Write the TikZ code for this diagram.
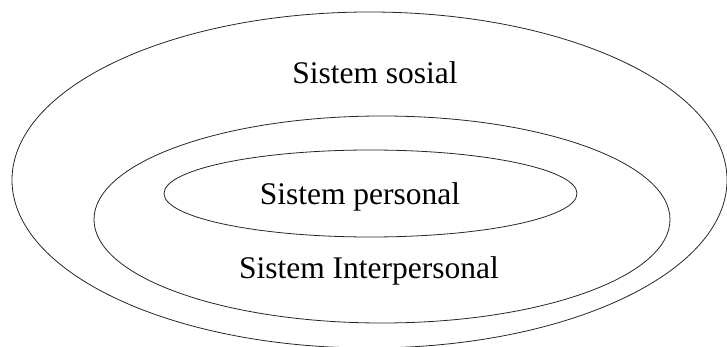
\documentclass[tikz,border=0pt]{standalone}
\usepackage{fontspec}
\setmainfont{Liberation Serif}
\usetikzlibrary{shapes.geometric}
\begin{document}
\begin{tikzpicture}[x=1pt,y=-1pt,
  ring/.style={draw=black!85,line width=0.8pt,ellipse,inner sep=0pt},
  lbl/.style={font=\fontsize{31.5}{36}\selectfont,inner sep=0pt}]
\useasboundingbox (0,0) rectangle (727,347);
\node[ring,minimum width=715pt,minimum height=336pt] (outer) at (369.5,180) {};
\node[ring,minimum width=576pt,minimum height=207pt] (middle) at (382,219.5) {};
\node[ring,minimum width=413pt,minimum height=87pt] (inner) at (370.5,193.5) {};
\node[lbl] (sosial) at (375,73) {Sistem sosial};
\node[lbl] (personal) at (360,197) {Sistem personal};
\node[lbl] (inter) at (369,271) {Sistem Interpersonal};
\end{tikzpicture}
\end{document}
